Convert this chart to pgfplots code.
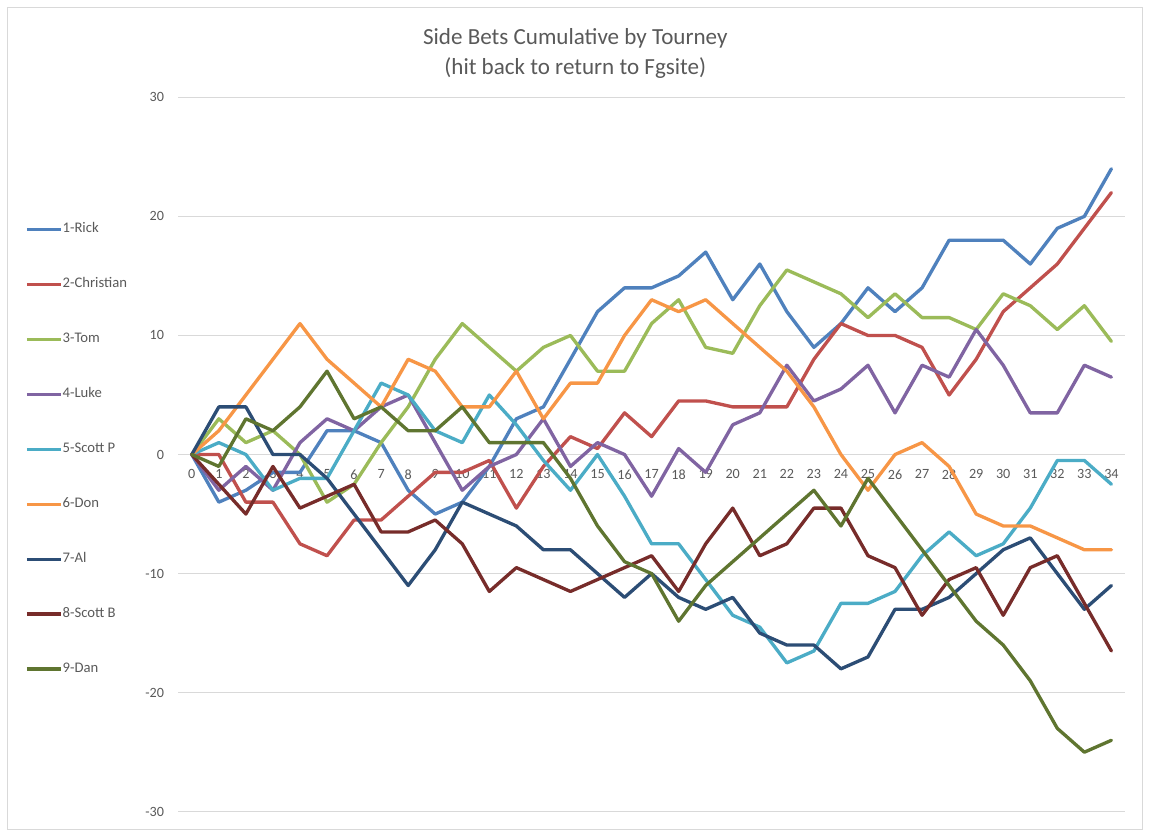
\documentclass[border=0pt]{standalone}
\usepackage{fontspec}
\setmainfont{Carlito}
\usepackage{pgfplots}
\usepackage{pgfplotstable}
\pgfplotsset{compat=1.18}
\definecolor{textgray}{HTML}{595959}
\definecolor{gridgray}{HTML}{D9D9D9}
\definecolor{cRick}{HTML}{4F81BD}
\definecolor{cChristian}{HTML}{C0504D}
\definecolor{cTom}{HTML}{9BBB59}
\definecolor{cLuke}{HTML}{8064A2}
\definecolor{cScottP}{HTML}{4BACC6}
\definecolor{cDon}{HTML}{F79646}
\definecolor{cAl}{HTML}{2C4D75}
\definecolor{cScottB}{HTML}{772C2A}
\definecolor{cDan}{HTML}{5F7530}
\pgfplotstableread{
x Rick Christian Tom Luke ScottP Don Al ScottB Dan
0 0 0 0 0 0 0 0 0 0
1 -4 0 3 -3 1 2 4 -2.5 -1
2 -3 -4 1 -1 0 5 4 -5 3
3 -1.5 -4 2 -3 -3 8 0 -1 2
4 -1.5 -7.5 0 1 -2 11 0 -4.5 4
5 2 -8.5 -4 3 -2 8 -2 -3.5 7
6 2 -5.5 -2.5 2 2 6 -5 -2.5 3
7 1 -5.5 1 4 6 4 -8 -6.5 4
8 -3 -3.5 4 5 5 8 -11 -6.5 2
9 -5 -1.5 8 1 2 7 -8 -5.5 2
10 -4 -1.5 11 -3 1 4 -4 -7.5 4
11 -1 -0.5 9 -1 5 4 -5 -11.5 1
12 3 -4.5 7 0 2.5 7 -6 -9.5 1
13 4 -1 9 3 -0.5 3 -8 -10.5 1
14 8 1.5 10 -1 -3 6 -8 -11.5 -2
15 12 0.5 7 1 0 6 -10 -10.5 -6
16 14 3.5 7 0 -3.5 10 -12 -9.5 -9
17 14 1.5 11 -3.5 -7.5 13 -10 -8.5 -10
18 15 4.5 13 0.5 -7.5 12 -12 -11.5 -14
19 17 4.5 9 -1.5 -10.5 13 -13 -7.5 -11
20 13 4 8.5 2.5 -13.5 11 -12 -4.5 -9
21 16 4 12.5 3.5 -14.5 9 -15 -8.5 -7
22 12 4 15.5 7.5 -17.5 7 -16 -7.5 -5
23 9 8 14.5 4.5 -16.5 4 -16 -4.5 -3
24 11 11 13.5 5.5 -12.5 0 -18 -4.5 -6
25 14 10 11.5 7.5 -12.5 -3 -17 -8.5 -2
26 12 10 13.5 3.5 -11.5 0 -13 -9.5 -5
27 14 9 11.5 7.5 -8.5 1 -13 -13.5 -8
28 18 5 11.5 6.5 -6.5 -1 -12 -10.5 -11
29 18 8 10.5 10.5 -8.5 -5 -10 -9.5 -14
30 18 12 13.5 7.5 -7.5 -6 -8 -13.5 -16
31 16 14 12.5 3.5 -4.5 -6 -7 -9.5 -19
32 19 16 10.5 3.5 -0.5 -7 -10 -8.5 -23
33 20 19 12.5 7.5 -0.5 -8 -13 -12.5 -25
34 24 22 9.5 6.5 -2.5 -8 -11 -16.5 -24
}\data
\begin{document}
\begin{tikzpicture}
\path[use as bounding box] (0,0) rectangle (862.5pt,628.5pt);
\draw[gridgray, line width=0.75pt] (5.5pt,6pt) rectangle (857pt,623pt);
\begin{axis}[
  at={(133.7pt,19.7pt)}, anchor=south west,
  scale only axis, width=710pt, height=535.8pt,
  xmin=-0.5, xmax=34.5, ymin=-30, ymax=30,
  axis x line=middle, axis y line=left,
  axis line style={draw=none},
  hide obscured x ticks=false, hide obscured y ticks=false,
  xtick={0,...,34}, ytick={-30,-20,...,30},
  major tick length=0pt,
  ymajorgrids, grid style={gridgray, line width=0.75pt},
  tick label style={font=\fontsize{10.6}{12}\selectfont, text=textgray},
  /pgf/number format/assume math mode=true,
  yticklabel style={anchor=east, inner sep=0pt, xshift=-10.5pt},
  xticklabel style={anchor=north, inner sep=0pt, yshift=-11pt},
  title={Side Bets Cumulative by Tourney\\(hit back to return to Fgsite)},
  title style={at={(axis description cs:0.4194,1.0855)}, anchor=north, align=center,
    font=\fontsize{17.3}{22.5}\selectfont, text=textgray, inner sep=0pt},
  no markers,
  every axis plot/.append style={line width=2.5pt, line join=round, line cap=round},
  legend cell align=left,
  legend image code/.code={\draw[#1, line cap=butt] (0pt,0pt) -- (25.5pt,0pt);},
  legend style={draw=none, fill=none, at={(axis description cs:-0.1619,0.8236)}, anchor=north west,
    inner sep=0pt, row sep=32.2pt, font=\fontsize{11}{12}\selectfont, text=textgray,
    nodes={inner sep=0pt, text height=7pt, text depth=2pt},
    /tikz/every odd column/.append style={column sep=0pt}},
]
\addplot[cRick] table[x=x,y=Rick]{\data};
\addlegendentry{1-Rick}
\addplot[cChristian] table[x=x,y=Christian]{\data};
\addlegendentry{2-Christian}
\addplot[cTom] table[x=x,y=Tom]{\data};
\addlegendentry{3-Tom}
\addplot[cLuke] table[x=x,y=Luke]{\data};
\addlegendentry{4-Luke}
\addplot[cScottP] table[x=x,y=ScottP]{\data};
\addlegendentry{5-Scott P}
\addplot[cDon] table[x=x,y=Don]{\data};
\addlegendentry{6-Don}
\addplot[cAl] table[x=x,y=Al]{\data};
\addlegendentry{7-Al}
\addplot[cScottB] table[x=x,y=ScottB]{\data};
\addlegendentry{8-Scott B}
\addplot[cDan] table[x=x,y=Dan]{\data};
\addlegendentry{9-Dan}
\end{axis}
\end{tikzpicture}
\end{document}
